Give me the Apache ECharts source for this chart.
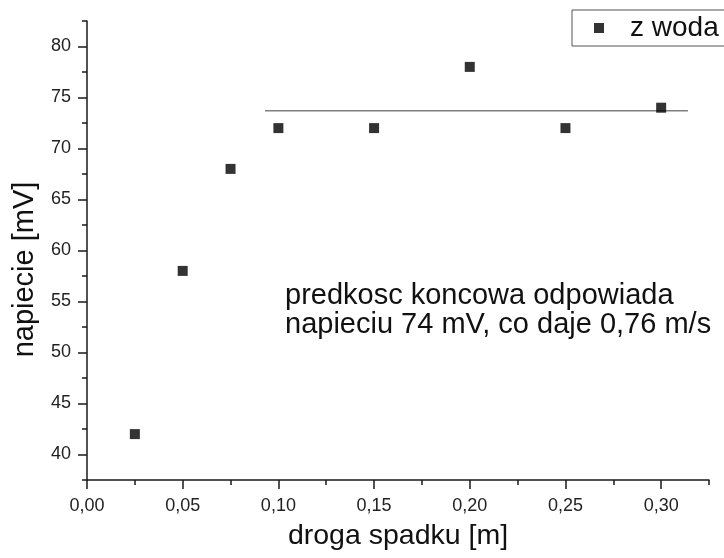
<!DOCTYPE html>
<html>
<head>
<meta charset="utf-8">
<script src="https://cdn.jsdelivr.net/npm/echarts@6/dist/echarts.min.js"></script>
<style>
html,body{margin:0;padding:0;background:#fff;}
#chart{width:724px;height:558px;}
</style>
</head>
<body>
<div id="chart"></div>
<script>
// ---- data ----
const seriesName = 'z woda';
const xValues = [0.025, 0.05, 0.075, 0.10, 0.15, 0.20, 0.25, 0.30];
const yValues = [42, 58, 68, 72, 72, 78, 72, 74];
const fitX = [0.093, 0.314];
const fitLevel = 73.7;
const xMajorTicks = [0, 0.05, 0.10, 0.15, 0.20, 0.25, 0.30];
const xTickLabels = ['0,00', '0,05', '0,10', '0,15', '0,20', '0,25', '0,30'];
const xMinorTicks = [0.025, 0.075, 0.125, 0.175, 0.225, 0.275, 0.325];
const yMajorTicks = [40, 45, 50, 55, 60, 65, 70, 75, 80];
const yMinorTicks = [37.5, 42.5, 47.5, 52.5, 57.5, 62.5, 67.5, 72.5, 77.5, 82.5];
const xRange = [0, 0.325];
const yRange = [37.5, 82.5];
const xTitle = 'droga spadku [m]';
const yTitle = 'napiecie [mV]';
const noteLines = ['predkosc koncowa odpowiada', 'napieciu 74 mV, co daje 0,76 m/s'];

const FONT = '"Liberation Sans", Arial, sans-serif';
const AX = '#1a1a1a';
const chart = echarts.init(document.getElementById('chart'), null, {renderer: 'canvas'});

function xLabel(v) {
  const i = xMajorTicks.findIndex(t => Math.abs(t - v) < 1e-9);
  return i >= 0 ? xTickLabels[i] : '';
}

const option = {
  backgroundColor: '#ffffff',
  animation: false,
  textStyle: {fontFamily: FONT},
  grid: {left: 87, right: 15, top: 21, bottom: 78, containLabel: false},
  legend: {
    show: true,
    data: [{name: seriesName, icon: 'rect'}],
    left: 572, top: 10,
    itemWidth: 10, itemHeight: 10,
    padding: [4, 40, 4, 22],
    borderColor: '#555', borderWidth: 1,
    backgroundColor: '#fff',
    textStyle: {fontFamily: FONT, fontSize: 28, color: '#111', padding: [0, 0, 0, 21]}
  },
  xAxis: [
    {
      type: 'value', min: xRange[0], max: xRange[1], position: 'bottom',
      name: xTitle, nameLocation: 'middle', nameGap: 42,
      nameTextStyle: {fontFamily: FONT, fontSize: 28.5, color: '#111'},
      axisLine: {show: true, onZero: false, lineStyle: {color: AX, width: 1.5}},
      axisTick: {show: true, inside: false, length: 9, customValues: xMajorTicks, lineStyle: {color: AX, width: 1.5}},
      axisLabel: {show: true, customValues: xMajorTicks, formatter: xLabel, margin: 17, fontFamily: FONT, fontSize: 18, color: '#222'},
      splitLine: {show: false}
    },
    {
      type: 'value', min: xRange[0], max: xRange[1], position: 'bottom',
      axisLine: {show: false, onZero: false},
      axisTick: {show: true, inside: false, length: 5, customValues: xMinorTicks, lineStyle: {color: AX, width: 1.5}},
      axisLabel: {show: false},
      splitLine: {show: false}
    }
  ],
  yAxis: [
    {
      type: 'value', min: yRange[0], max: yRange[1], position: 'left',
      name: yTitle, nameLocation: 'middle', nameGap: 48, nameRotate: 90,
      nameTextStyle: {fontFamily: FONT, fontSize: 29, color: '#111', padding: [0, 38, 0, 0]},
      axisLine: {show: true, onZero: false, lineStyle: {color: AX, width: 1.5}},
      axisTick: {show: true, inside: false, length: 9, customValues: yMajorTicks, lineStyle: {color: AX, width: 1.5}},
      axisLabel: {show: true, customValues: yMajorTicks, margin: 16, fontFamily: FONT, fontSize: 18, color: '#222'},
      splitLine: {show: false}
    },
    {
      type: 'value', min: yRange[0], max: yRange[1], position: 'left',
      axisLine: {show: false, onZero: false},
      axisTick: {show: true, inside: false, length: 5, customValues: yMinorTicks, lineStyle: {color: AX, width: 1.5}},
      axisLabel: {show: false},
      splitLine: {show: false}
    }
  ],
  series: [
    {
      name: 'fit', type: 'line', xAxisIndex: 0, yAxisIndex: 0,
      data: fitX.map(x => [x, fitLevel]),
      showSymbol: false, symbol: 'none',
      lineStyle: {color: '#808080', width: 1.5},
      silent: true, z: 1
    },
    {
      name: seriesName, type: 'scatter', xAxisIndex: 0, yAxisIndex: 0,
      data: xValues.map((x, i) => [x, yValues[i]]),
      symbol: 'rect', symbolSize: 10,
      itemStyle: {color: '#000'},
      z: 3
    }
  ],
  graphic: [
    {
      type: 'text', left: 285, top: 281, silent: true,
      style: {text: noteLines.join('\n'), font: '29px ' + FONT, fill: '#111', lineHeight: 29}
    }
  ]
};
chart.setOption(option);
</script>
</body>
</html>
